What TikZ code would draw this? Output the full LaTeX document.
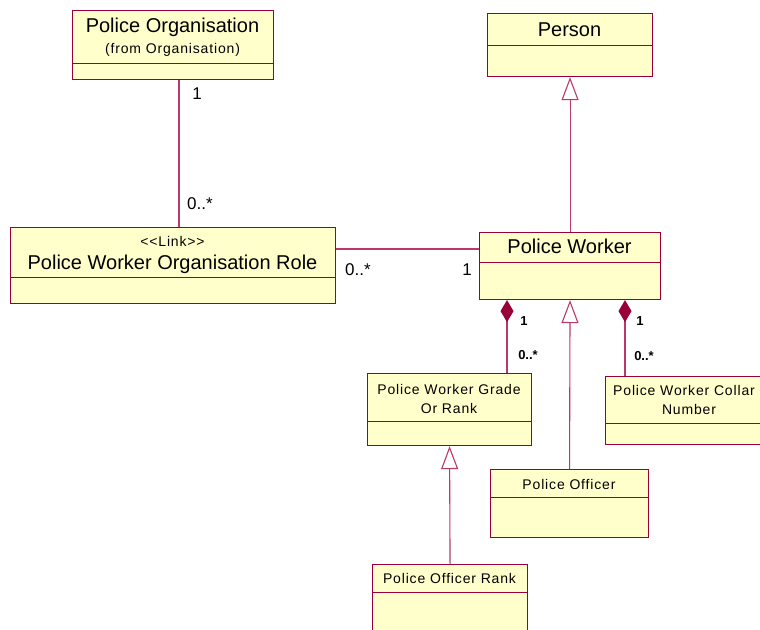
\documentclass[tikz,border=0pt]{standalone}
\usepackage{fontspec}
\setmainfont{Liberation Sans}
\newfontfamily\spacedfont[LetterSpace=6]{Liberation Sans}
\usetikzlibrary{arrows.meta}
\definecolor{umlborder}{HTML}{99003A}
\definecolor{umlline}{HTML}{B83A6A}
\definecolor{umlfill}{HTML}{FFFFCC}
\tikzset{
  umlcls/.style={draw=umlborder, fill=umlfill, line width=1.1pt, inner sep=0pt, anchor=north west},
  divline/.style={draw=umlborder, line width=0.9pt},
  bigtxt/.style={font=\fontsize{20}{23}\selectfont, inner sep=0pt},
  smalltxt/.style={font=\spacedfont\fontsize{14}{17}\selectfont, inner sep=0pt},
  multbig/.style={font=\fontsize{17}{20}\selectfont, inner sep=0pt},
  multsmall/.style={font=\bfseries\fontsize{13}{15}\selectfont, inner sep=0pt},
  assoc/.style={draw=umlline, line width=1.1pt},
  gen/.style={assoc, {Triangle[open, length=23pt, width=17pt, fill=white, line width=1.1pt]}-},
  comp/.style={assoc, {Diamond[length=22pt, width=13pt, fill=umlborder, color=umlborder]}-},
}
\newcommand{\umlclass}[6]{%
  % name, x, y, w, h, divider y (absolute)
  \node[umlcls, minimum width=#4pt, minimum height=#5pt] (#1) at (#2,#3) {};
  \draw[divline] (#2,#6) -- ++(#4,0);
}
\begin{document}
\begin{tikzpicture}[x=1pt, y=-1pt]
\useasboundingbox (0,0) rectangle (760,629);
\clip (0,0) rectangle (760,629);

% classes
\umlclass{porg}{72}{10}{201}{69}{63}
\umlclass{person}{487}{13}{165}{63}{45}
\umlclass{pwor}{10}{227}{325}{76}{277}
\umlclass{pw}{479}{232}{181}{67}{262}
\umlclass{grade}{367}{373}{164}{72}{421}
\umlclass{collar}{605}{376}{180}{68}{423}
\umlclass{officer}{490}{469}{158}{68}{497}
\umlclass{rank}{372}{564}{155}{80}{592}

% texts
\node[bigtxt] (t1) at (172.5,27) {Police Organisation};
\node[smalltxt] (t1b) at (172.5,50) {(from Organisation)};
\node[bigtxt] (t2) at (569.5,30) {Person};
\node[smalltxt] (t3a) at (172.5,241) {{<}{<}Link{>}{>}};
\node[bigtxt] (t3b) at (172.5,264) {Police Worker Organisation Role};
\node[bigtxt] (t4) at (569.5,246) {Police Worker};
\node[smalltxt] (t5a) at (449,389) {Police Worker Grade};
\node[smalltxt] (t5b) at (449,408) {Or Rank};
\node[smalltxt, anchor=west] (t6a) at (613,390) {Police Worker Collar};
\node[smalltxt] (t6b) at (689,409) {Number};
\node[smalltxt] (t7) at (569,484) {Police Officer};
\node[smalltxt] (t8) at (449.5,578) {Police Officer Rank};

% connectors
\draw[assoc] (porg.south -| 179,0) -- (pwor.north -| 179,0);
\draw[assoc] (pwor.east |- 0,249) -- (pw.west |- 0,249);
\draw[gen] (person.south) -- (pw.north);
\draw[gen] (pw.south) -- (officer.north);
\draw[gen] (grade.south) -- (rank.north);
\draw[comp] (pw.south -| 507,0) -- (grade.north -| 507,0);
\draw[comp] (pw.south -| 625,0) -- (collar.north -| 625,0);

% multiplicities
\node[multbig] (m1) at (197,94) {1};
\node[multbig] (m2) at (200,204) {0..*};
\node[multbig] (m3) at (358,269.5) {0..*};
\node[multbig] (m4) at (467,269.5) {1};
\node[multsmall] (m5) at (524,321.5) {1};
\node[multsmall] (m6) at (528,355) {0..*};
\node[multsmall] (m7) at (640,321.5) {1};
\node[multsmall] (m8) at (644,356) {0..*};
\end{tikzpicture}
\end{document}
